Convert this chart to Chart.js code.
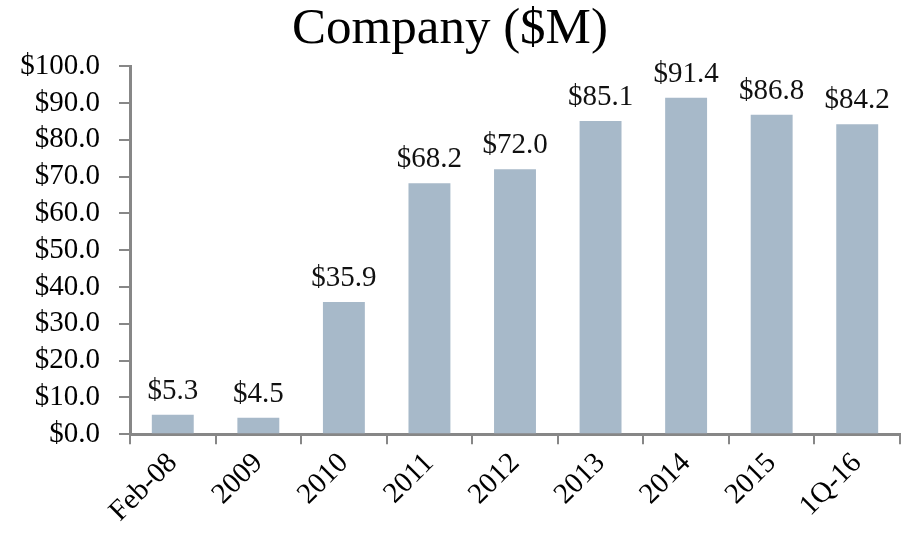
<!DOCTYPE html>
<html>
<head>
<meta charset="utf-8">
<script src="https://cdn.jsdelivr.net/npm/chart.js@4/dist/chart.umd.min.js"></script>
<style>
html,body{margin:0;padding:0;background:#fff;}
#wrap{width:907px;height:537px;position:relative;}
</style>
</head>
<body>
<div id="wrap"><canvas id="c"></canvas></div>
<script>
const categories = ["Feb-08","2009","2010","2011","2012","2013","2014","2015","1Q-16"];
const values = [5.3, 4.5, 35.9, 68.2, 72.0, 85.1, 91.4, 86.8, 84.2];
const chartTitle = "Company ($M)";

const FONT = "'Liberation Serif', 'DejaVu Serif', serif";
const AXIS = "#878787";

const labelPlugin = {
  id: 'barLabels',
  afterDatasetsDraw(chart) {
    const ctx = chart.ctx;
    const meta = chart.getDatasetMeta(0);
    ctx.save();
    ctx.font = "29px " + FONT;
    ctx.fillStyle = "#111";
    ctx.textAlign = "center";
    ctx.textBaseline = "alphabetic";
    meta.data.forEach((bar, i) => {
      ctx.fillText("$" + values[i].toFixed(1), bar.x, bar.y - 16);
    });
    ctx.restore();
  }
};

new Chart(document.getElementById('c'), {
  type: 'bar',
  data: {
    labels: categories,
    datasets: [{
      data: values,
      backgroundColor: "#a7b9c9",
      barPercentage: 0.49,
      categoryPercentage: 1.0
    }]
  },
  options: {
    responsive: true,
    maintainAspectRatio: false,
    animation: false,
    layout: { padding: { left: 0, right: 7, top: 0, bottom: 6 } },
    plugins: {
      legend: { display: false },
      tooltip: { enabled: false },
      title: {
        display: true,
        text: chartTitle,
        color: "#000",
        font: { family: FONT, size: 51, weight: 'normal', lineHeight: 1.1 },
        padding: { top: 2, bottom: 8 }
      }
    },
    scales: {
      x: {
        afterFit: s => { s.paddingLeft = 0; },
        grid: { display: true, drawOnChartArea: false, drawTicks: true, tickLength: 10, color: AXIS, lineWidth: 2, offset: true },
        border: { display: true, color: AXIS, width: 3 },
        ticks: { color: "#000", font: { family: FONT, size: 29 }, maxRotation: 45, minRotation: 45, padding: 2, autoSkip: false }
      },
      y: {
        min: 0, max: 100,
        afterFit: s => { s.width = 130; },
        grid: { display: true, drawOnChartArea: false, drawTicks: true, tickLength: 11, color: AXIS, lineWidth: 2 },
        border: { display: true, color: AXIS, width: 3 },
        ticks: { stepSize: 10, autoSkip: false, color: "#000", font: { family: FONT, size: 29 }, padding: 19,
          callback: v => "$" + Number(v).toFixed(1) }
      }
    }
  },
  plugins: [labelPlugin]
});
</script>
</body>
</html>
